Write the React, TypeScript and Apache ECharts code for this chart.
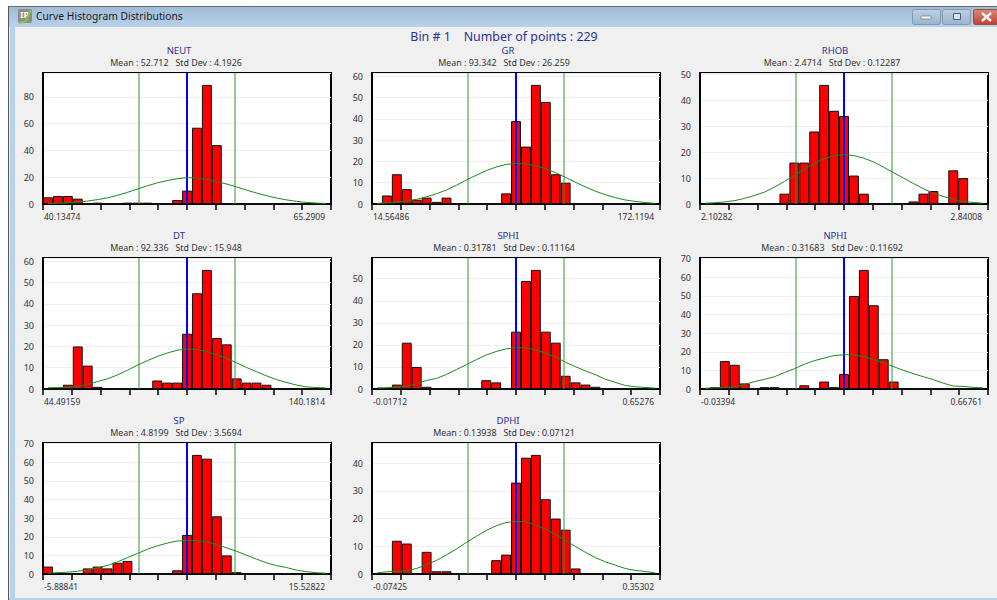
import React, { useEffect, useRef } from "react";
import * as echarts from "echarts";

const FONT = '"Noto Sans", sans-serif';
const binLabels = Array.from({ length: 29 }, (_, i) => String(i + 1));

const curveNames = ["NEUT", "GR", "RHOB", "DT", "SPHI", "NPHI", "SP", "DPHI"];
const means = [52.712, 93.342, 2.4714, 92.336, 0.31781, 0.31683, 4.8199, 0.13938];
const stdDevs = [4.1926, 26.259, 0.12287, 15.948, 0.11164, 0.11692, 3.5694, 0.07121];
const meanText = ["52.712", "93.342", "2.4714", "92.336", "0.31781", "0.31683", "4.8199", "0.13938"];
const stdText = ["4.1926", "26.259", "0.12287", "15.948", "0.11164", "0.11692", "3.5694", "0.07121"];
const axisMinText = ["40.13474", "14.56486", "2.10282", "44.49159", "-0.01712", "-0.03394", "-5.88841", "-0.07425"];
const axisMaxText = ["65.2909", "172.1194", "2.84008", "140.1814", "0.65276", "0.66761", "15.52822", "0.35302"];
const yMaxima = [97.9, 61.6, 50.6, 61.6, 59.4, 70.4, 70.4, 47.3];
const yIntervals = [20, 10, 10, 10, 10, 10, 10, 10];

const neutCounts = [5, 6, 6, 4, 0, 1, 0, 0, 1, 1, 1, 0, 0, 3, 10, 57, 89, 44, 0, 0, 0, 0, 0, 0, 0, 0, 0, 0, 0];
const grCounts = [0, 4, 14, 7, 2, 3, 1, 3, 0, 0, 0, 0, 0, 5, 39, 27, 56, 48, 14, 10, 0, 0, 0, 0, 0, 0, 0, 0, 0];
const rhobCounts = [0, 0, 0, 0, 0, 0, 0, 0, 4, 16, 16, 28, 46, 36, 34, 11, 4, 0, 0, 0, 0, 1, 4, 5, 0, 13, 10, 0, 0];
const dtCounts = [0, 0, 2, 20, 11, 1, 0, 0, 0, 0, 0, 4, 3, 3, 26, 45, 56, 24, 21, 5, 3, 3, 2, 0, 0, 0, 0, 0, 0];
const sphiCounts = [0, 0, 2, 21, 10, 1, 0, 0, 0, 0, 0, 4, 3, 0, 26, 49, 54, 26, 21, 6, 3, 2, 1, 0, 0, 0, 0, 0, 0];
const nphiCounts = [0, 1, 15, 13, 3, 0, 1, 1, 0, 0, 2, 0, 4, 1, 8, 50, 64, 45, 16, 4, 0, 0, 0, 0, 0, 0, 0, 0, 0];
const spCounts = [4, 0, 0, 0, 3, 4, 3, 6, 7, 0, 0, 0, 0, 2, 21, 64, 62, 31, 10, 1, 0, 0, 0, 0, 0, 0, 0, 0, 0];
const dphiCounts = [0, 0, 12, 11, 0, 8, 1, 1, 0, 0, 0, 0, 5, 7, 33, 42, 43, 27, 20, 16, 2, 0, 0, 0, 0, 0, 0, 0, 0];
const allCounts = [neutCounts, grCounts, rhobCounts, dtCounts, sphiCounts, nphiCounts, spCounts, dphiCounts];

const neutCurve = [0.3, 0.5, 0.9, 1.4, 2.2, 3.3, 4.6, 6.5, 8.7, 11.2, 13.6, 15.8, 17.5, 18.9, 19.7, 19.4, 18.3, 16.8, 14.9, 12.7, 10.4, 8.2, 6.2, 4.5, 3.1, 2.0, 1.2, 0.7, 0.4];
const grCurve = [0.3, 0.5, 0.9, 1.5, 2.2, 3.4, 4.8, 6.6, 8.8, 11.3, 13.5, 15.7, 17.4, 18.6, 19.0, 18.8, 18.0, 16.6, 14.7, 12.5, 10.2, 8.0, 6.0, 4.4, 3.0, 1.9, 1.2, 0.7, 0.3];
const rhobCurve = [0.3, 0.5, 0.8, 1.3, 2.2, 3.3, 4.6, 6.5, 8.7, 11.0, 13.5, 15.7, 17.5, 18.6, 19.1, 18.7, 17.7, 16.2, 14.2, 12.1, 10.0, 7.9, 5.9, 4.2, 2.9, 1.8, 1.0, 0.6, 0.3];
const dtCurve = [0.6, 0.7, 0.7, 1.2, 2.2, 3.5, 4.8, 6.6, 8.8, 11.2, 13.3, 15.3, 16.9, 18.2, 18.8, 18.6, 17.6, 16.1, 14.4, 12.3, 10.1, 8.1, 6.2, 4.4, 3.1, 1.9, 1.0, 0.7, 0.5];
const sphiCurve = [0.5, 0.6, 0.8, 1.3, 2.3, 3.9, 4.8, 6.6, 8.8, 11.0, 13.3, 15.4, 17.0, 18.2, 18.7, 18.7, 17.7, 16.2, 14.5, 12.1, 10.1, 8.2, 6.5, 4.4, 3.0, 1.6, 1.0, 0.7, 0.4];
const nphiCurve = [0.4, 0.6, 0.8, 1.2, 2.4, 4.0, 5.2, 6.6, 8.8, 10.9, 13.3, 15.2, 16.6, 18.0, 18.4, 18.4, 17.3, 15.9, 14.1, 12.0, 10.0, 8.2, 6.6, 5.0, 3.1, 1.6, 1.4, 0.9, 0.6];
const spCurve = [0.5, 0.7, 1.0, 1.5, 2.2, 3.3, 4.6, 6.5, 8.8, 11.0, 13.3, 15.1, 16.6, 17.7, 18.1, 18.0, 17.2, 15.8, 14.0, 12.2, 10.1, 8.0, 6.0, 4.5, 3.5, 2.1, 1.3, 0.7, 0.4];
const dphiCurve = [0.4, 0.8, 1.0, 1.2, 2.0, 3.4, 4.9, 6.9, 9.0, 11.4, 13.6, 15.7, 17.4, 18.6, 19.0, 18.8, 17.7, 16.1, 14.2, 12.1, 9.9, 7.8, 5.9, 4.4, 3.2, 2.0, 1.3, 0.9, 0.4];
const allCurves = [neutCurve, grCurve, rhobCurve, dtCurve, sphiCurve, nphiCurve, spCurve, dphiCurve];

const gridLefts = [43, 372, 700, 43, 372, 700, 43, 372];
const gridTops = [73, 73, 73, 258, 258, 258, 443, 443];
const titleCenters = [179, 508, 835, 179, 508, 835, 179, 508];
const subCenters = [176, 504, 832, 176, 504, 832, 176, 504];
const titleTops = [46, 46, 46, 231, 231, 231, 416, 416];

function buildOption() {
  const grid: any[] = [], xAxis: any[] = [], yAxis: any[] = [], series: any[] = [], title: any[] = [];
  title.push({
    text: "Bin # 1    Number of points : 229", left: 504, top: 30, padding: 0, textAlign: "center",
    textStyle: { fontFamily: FONT, fontSize: 12.4, fontWeight: "normal", color: "#2e2e96" },
  });
  curveNames.forEach((name, i) => {
    grid.push({
      left: gridLefts[i], top: gridTops[i], width: 288, height: 131, show: true,
      backgroundColor: "#ffffff", borderColor: "#000000", borderWidth: 2,
    });
    xAxis.push({
      gridIndex: i, type: "value", min: 0, max: 29, interval: 2.9, position: "bottom",
      axisLine: { show: true, lineStyle: { color: "#000", width: 2 } },
      axisTick: { show: true, length: 6, lineStyle: { color: "#000", width: 1.5 } },
      splitLine: { show: false },
      axisLabel: {
        show: true, hideOverlap: false, margin: 8, color: "#333", fontFamily: FONT, fontSize: 8.5,
        alignMinLabel: "left", alignMaxLabel: "right",
        padding: [0, 6, 0, 1],
        formatter: (_v: number, idx: number) => (idx === 0 ? axisMinText[i] : idx === 10 ? axisMaxText[i] : ""),
      },
    });
    xAxis.push({ gridIndex: i, type: "category", data: binLabels, show: false, boundaryGap: true });
    yAxis.push({
      gridIndex: i, type: "value", min: 0, max: yMaxima[i], interval: yIntervals[i],
      axisLine: { show: true, lineStyle: { color: "#000", width: 2 } },
      axisTick: { show: false },
      splitLine: { show: true, lineStyle: { color: "#efefef", width: 1 } },
      axisLabel: {
        margin: 9, color: "#333", fontFamily: FONT, fontSize: 9, showMaxLabel: false,
        formatter: (v: number) => (v % yIntervals[i] === 0 ? String(v) : ""),
      },
    });
    series.push({
      type: "bar", name: name + " counts", xAxisIndex: 2 * i + 1, yAxisIndex: i, data: allCounts[i],
      barWidth: "100%", barGap: "0%", z: 2,
      itemStyle: { color: "#ff0000", borderColor: "#111", borderWidth: 1 },
    });
    const axisLo = means[i] - 3 * stdDevs[i];
    const toBin = (v: number) => ((v - axisLo) / (6 * stdDevs[i])) * 29;
    const vLine = (v: number, color: string, width: number, z: number) => ({
      type: "line", xAxisIndex: 2 * i, yAxisIndex: i, symbol: "none", z, silent: true,
      data: [[toBin(v), 0], [toBin(v), yMaxima[i]]],
      lineStyle: { color, width },
    });
    series.push(vLine(means[i] - stdDevs[i], "#2f962f", 1, 3));
    series.push(vLine(means[i] + stdDevs[i], "#2f962f", 1, 3));
    series.push(vLine(means[i], "#0000ff", 2, 4));
    series.push({
      type: "line", name: name + " normal", xAxisIndex: 2 * i + 1, yAxisIndex: i, data: allCurves[i],
      symbol: "none", z: 5, lineStyle: { color: "#1c8a1c", width: 1 },
    });
    title.push({
      text: name, left: titleCenters[i], top: titleTops[i], padding: 0, textAlign: "center",
      textStyle: { fontFamily: FONT, fontSize: 9.5, fontWeight: "normal", color: "#2e2e96", lineHeight: 9 },
    });
    title.push({
      text: `Mean : ${meanText[i]}   Std Dev : ${stdText[i]}`, left: subCenters[i], top: titleTops[i] + 12, padding: 0,
      textAlign: "center",
      textStyle: { fontFamily: FONT, fontSize: 8.9, fontWeight: "normal", color: "#333", lineHeight: 9 },
    });
  });

  const bandFill = {
    type: "linear", x: 0, y: 0, x2: 0, y2: 1,
    colorStops: [{ offset: 0, color: "#a1bbd7" }, { offset: 1, color: "#b9d1ea" }],
  };
  const btnFill = {
    type: "linear", x: 0, y: 0, x2: 0, y2: 1,
    colorStops: [{ offset: 0, color: "#bfd0e2" }, { offset: 1, color: "#9ab4ce" }],
  };
  const closeFill = {
    type: "linear", x: 0, y: 0, x2: 0, y2: 1,
    colorStops: [{ offset: 0, color: "#d98a78" }, { offset: 1, color: "#bf4030" }],
  };
  const graphic = [
    { type: "rect", silent: true, shape: { x: 8, y: 6, width: 989, height: 594 }, style: { fill: "#f0f0f0" } },
    { type: "rect", silent: true, shape: { x: 8, y: 7, width: 989, height: 20 }, style: { fill: bandFill } },
    { type: "rect", silent: true, shape: { x: 8, y: 6, width: 989, height: 1 }, style: { fill: "#6a6a6a" } },
    { type: "rect", silent: true, shape: { x: 8, y: 6, width: 1, height: 594 }, style: { fill: "#555" } },
    { type: "rect", silent: true, shape: { x: 10, y: 27, width: 5, height: 573 }, style: { fill: "#b9d1ea" } },
    { type: "rect", silent: true, shape: { x: 9, y: 598, width: 988, height: 2 }, style: { fill: "#b9d1ea" } },
    { type: "rect", silent: true, shape: { x: 18, y: 9, width: 14, height: 14, r: 2 }, style: { fill: "#8d8d80" } },
    { type: "text", silent: true, x: 20, y: 10, style: { text: "IP", fill: "#fff", font: `bold 9px ${FONT}` } },
    { type: "polyline", silent: true, shape: { points: [[19, 23], [26, 21], [31, 10]] }, style: { stroke: "#8fbf4a", fill: "none", lineWidth: 2 } },
    { type: "text", silent: true, x: 36, y: 11, style: { text: "Curve Histogram Distributions", fill: "#1a1a1a", font: `10.3px ${FONT}` } },
    { type: "rect", silent: true, shape: { x: 912.5, y: 9.5, width: 28, height: 15, r: 2 }, style: { fill: btnFill, stroke: "#7f98b2" } },
    { type: "rect", silent: true, shape: { x: 921, y: 16, width: 10, height: 3 }, style: { fill: "#f4f4f4", stroke: "#4a5a6a", lineWidth: 0.5 } },
    { type: "rect", silent: true, shape: { x: 942.5, y: 9.5, width: 28, height: 15, r: 2 }, style: { fill: btnFill, stroke: "#7f98b2" } },
    { type: "rect", silent: true, shape: { x: 953.5, y: 13.5, width: 7, height: 6 }, style: { fill: "#d8e2ec", stroke: "#4a5c70", lineWidth: 1 } },
    { type: "rect", silent: true, shape: { x: 973.5, y: 9.5, width: 24, height: 15, r: 2 }, style: { fill: closeFill, stroke: "#9a4a40" } },
    { type: "line", silent: true, shape: { x1: 982, y1: 13, x2: 991, y2: 21 }, style: { stroke: "#f4f4f4", lineWidth: 2.5 } },
    { type: "line", silent: true, shape: { x1: 991, y1: 13, x2: 982, y2: 21 }, style: { stroke: "#f4f4f4", lineWidth: 2.5 } },
  ].map((g) => ({ ...g, z: -10 }));

  return { animation: false, backgroundColor: "#ffffff", title, grid, xAxis, yAxis, series, graphic };
}

export default function App() {
  const ref = useRef<HTMLDivElement>(null);
  useEffect(() => {
    const chart = echarts.init(ref.current!, undefined, { renderer: "svg" });
    chart.setOption(buildOption() as any);
    return () => chart.dispose();
  }, []);
  return <div ref={ref} style={{ position: "absolute", left: 0, top: 0, width: 997, height: 600 }} />;
}
